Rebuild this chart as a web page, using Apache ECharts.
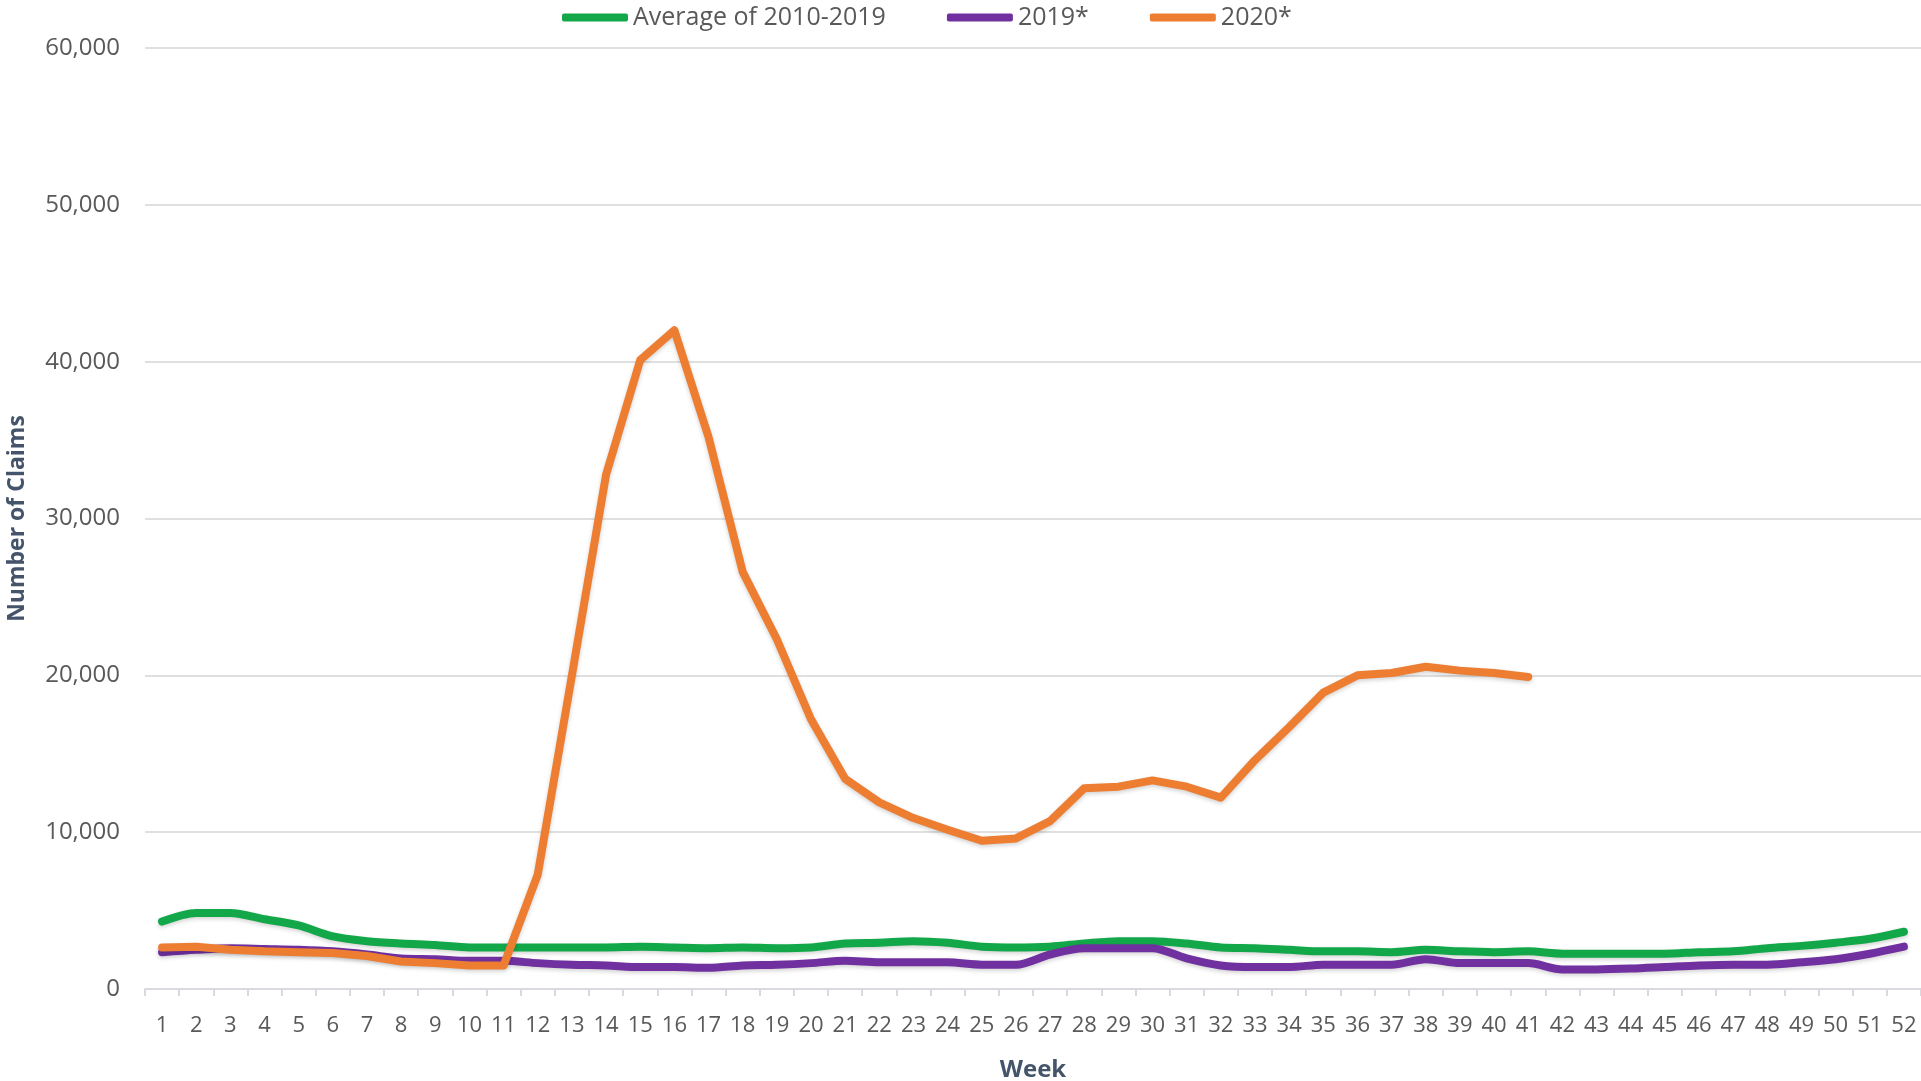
<!doctype html>
<html lang="en">
<head>
  <meta charset="UTF-8">
  <title>Number of Claims by Week</title>
  <script src="https://cdn.jsdelivr.net/npm/echarts@6/dist/echarts.min.js"></script>
  <style>
    * {
      margin: 0;
      padding: 0;
      box-sizing: border-box;
    }

    body {
      background: #fff;
    }

    .chart {
      width: 1921px;
      height: 1081px;
    }
  </style>
</head>
<body>
<div class="chart"></div>
<script>
  // weeks 1..52
  const weeks = []
  for (let i = 1; i <= 52; i++) weeks.push(String(i))

  const yTicks = [0, 10000, 20000, 30000, 40000, 50000, 60000]

  const seriesNames = ['Average of 2010-2019', '2019*', '2020*']

  const avg2010_2019 = [
    4300, 4850, 4850, 4450, 4050, 3350, 3050, 2900, 2800, 2650,
    2650, 2650, 2650, 2650, 2700, 2650, 2600, 2650, 2600, 2650,
    2900, 2950, 3050, 2950, 2700, 2650, 2700, 2900, 3050, 3050,
    2900, 2650, 2600, 2500, 2400, 2400, 2350, 2500, 2400, 2350,
    2400, 2250, 2250, 2250, 2250, 2350, 2400, 2600, 2750, 2950,
    3200, 3650
  ]

  const claims2019 = [
    2350, 2500, 2600, 2550, 2500, 2400, 2200, 1950, 1900, 1800,
    1800, 1650, 1550, 1500, 1400, 1400, 1350, 1500, 1550, 1650,
    1800, 1700, 1700, 1700, 1550, 1550, 2200, 2600, 2600, 2600,
    1950, 1500, 1400, 1400, 1550, 1550, 1550, 1900, 1650, 1650,
    1650, 1250, 1250, 1300, 1400, 1500, 1550, 1550, 1700, 1900,
    2250, 2700
  ]

  const claims2020 = [
    2650, 2700, 2500, 2400, 2350, 2300, 2100, 1750, 1650, 1500,
    1500, 7300, 20000, 32800, 40100, 42000, 35200, 26600, 22300, 17200,
    13400, 11900, 10900, 10150, 9450, 9600, 10700, 12800, 12900, 13300,
    12900, 12200, 14600, 16700, 18900, 20000, 20150, 20550, 20300, 20150,
    19900
  ]

  const colors = ['#12a84a', '#7030a0', '#ed7d31']
</script>
<script>
  const chart = echarts.init(document.querySelector('.chart'))

  const textColor = '#595959'
  const titleColor = '#44546a'
  const font = '"Open Sans", "Noto Sans", sans-serif'

  function lineSeries(name, data, color, smooth) {
    return {
      name: name,
      type: 'line',
      data: data,
      symbol: 'none',
      smooth: smooth,
      lineStyle: {
        color: color,
        width: 8,
        cap: 'round',
        join: 'round',
        shadowColor: 'rgba(0,0,0,0.18)',
        shadowBlur: 4,
        shadowOffsetY: 2
      },
      itemStyle: {color: color}
    }
  }

  const option = {
    animation: false,
    backgroundColor: '#fff',
    textStyle: {fontFamily: font},
    legend: {
      left: 562,
      top: 5,
      padding: 0,
      itemWidth: 66,
      itemHeight: 8,
      itemGap: 61,
      icon: 'roundRect',
      data: seriesNames,
      textStyle: {
        color: textColor,
        fontSize: 25,
        fontFamily: font
      }
    },
    grid: {
      left: 145,
      right: 0,
      top: 48,
      bottom: 92,
      outerBoundsMode: 'none'
    },
    xAxis: {
      type: 'category',
      data: weeks,
      boundaryGap: true,
      name: 'Week',
      nameLocation: 'middle',
      nameGap: 69,
      nameTextStyle: {
        color: titleColor,
        fontSize: 24,
        fontWeight: 'bold',
        fontFamily: font
      },
      axisLine: {lineStyle: {color: '#d9d9e0', width: 2}},
      axisTick: {show: true, alignWithLabel: false, length: 7, lineStyle: {color: '#d9d9e0', width: 2}},
      axisLabel: {
        interval: 0,
        color: textColor,
        fontSize: 22,
        margin: 26,
        fontFamily: font
      },
      splitLine: {show: false}
    },
    yAxis: {
      type: 'value',
      min: yTicks[0],
      max: yTicks[yTicks.length - 1],
      interval: yTicks[1] - yTicks[0],
      name: 'Number of Claims',
      nameLocation: 'middle',
      nameGap: 116,
      nameTextStyle: {
        color: titleColor,
        fontSize: 23,
        fontWeight: 'bold',
        fontFamily: font
      },
      axisLine: {show: false},
      axisTick: {show: false},
      axisLabel: {
        color: textColor,
        fontSize: 24,
        margin: 25,
        fontFamily: font,
        formatter: function (v) {
          return v.toLocaleString('en-US')
        }
      },
      splitLine: {lineStyle: {color: '#e0e0e0', width: 2}}
    },
    series: [
      lineSeries(seriesNames[0], avg2010_2019, colors[0], 0.3),
      lineSeries(seriesNames[1], claims2019, colors[1], 0.3),
      lineSeries(seriesNames[2], claims2020, colors[2], false)
    ]
  }

  chart.setOption(option)
</script>
</body>
</html>
